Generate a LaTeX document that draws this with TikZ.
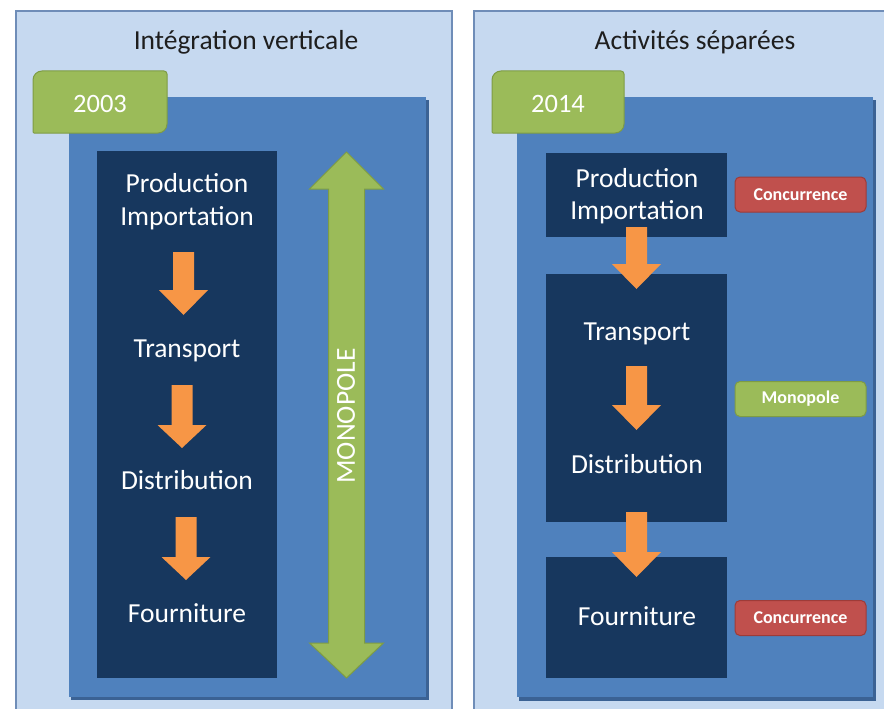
\documentclass[tikz,border=0pt]{standalone}
\usepackage{fontspec}
\setmainfont{Carlito}

\definecolor{panelfill}{HTML}{C6D9F0}
\definecolor{paneledge}{HTML}{6F8DB8}
\definecolor{midblue}{HTML}{4F81BD}
\definecolor{midshadow}{HTML}{3B6294}
\definecolor{navy}{HTML}{17375E}
\definecolor{orangeA}{HTML}{F79646}
\definecolor{greenA}{HTML}{9BBB59}
\definecolor{greenEdge}{HTML}{7E9C44}
\definecolor{redA}{HTML}{C0504D}
\definecolor{redEdge}{HTML}{9E3B38}
\definecolor{titlegray}{HTML}{1E1E1E}

\tikzset{
  panel/.style={fill=panelfill, draw=paneledge, line width=1.5pt},
  steptext/.style={text=white, font=\fontsize{27.5}{33}\selectfont, anchor=base, inner sep=0pt},
  titletext/.style={text=titlegray, font=\fontsize{27.5}{33}\selectfont, anchor=base, inner sep=0pt},
  yeartab/.style={fill=greenA, draw=greenEdge, line width=1pt},
  yeartext/.style={text=white, font=\fontsize{26.5}{32}\selectfont, anchor=base, inner sep=0pt},
  badge/.style={rounded corners=5pt, minimum width=131pt, minimum height=35pt, inner sep=0pt,
    text=white, font=\bfseries\fontsize{18}{21}\selectfont, line width=1pt},
  redbadge/.style={badge, fill=redA, draw=redEdge},
  greenbadge/.style={badge, fill=greenA, draw=greenEdge},
  flowarrow/.style={fill=orangeA},
  bigarrow/.style={fill=greenA, draw=greenEdge, line width=1pt},
}

% orange block arrow pointing down: centre x, shaft top, head base, tip
\newcommand\flowdown[4]{%
  \fill[flowarrow] (#1-10.5,#2) -- (#1+10.5,#2) -- (#1+10.5,#3) -- (#1+24.5,#3)
    -- (#1,#4) -- (#1-24.5,#3) -- (#1-10.5,#3) -- cycle;}

% year tab with two rounded and two nearly square corners
\newcommand\yeartabshape[4]{%
  \draw[yeartab] (#1,#4) [rounded corners=9pt] -- (#1,#2) [rounded corners=3pt] -- (#3,#2)
    [rounded corners=9pt] -- (#3,#4) [rounded corners=1pt] -- cycle;}

\begin{document}
\begin{tikzpicture}[x=1pt,y=-1pt]
\useasboundingbox (0,0) rectangle (884,709);
\fill[white] (0,0) rectangle (884,709);

% ---------------- left panel: vertical integration ----------------
\draw[panel] (16,11) rectangle (452,716);
\node[titletext] (titleL) at (246,50) {Intégration verticale};
\fill[midshadow] (71,100) rectangle (429,700);
\fill[midblue] (69,97) rectangle (426,697);
\yeartabshape{33}{71}{167}{133}
\node[yeartext] (yearL) at (100,112) {2003};

\fill[navy] (97,151) rectangle (277,678);
\node[steptext] (prodL) at (187,192.5) {Production};
\node[steptext] (impL) at (187,225) {Importation};
\node[steptext] (transL) at (187,357) {Transport};
\node[steptext] (distL) at (187,489) {Distribution};
\node[steptext] (fournL) at (187,622) {Fourniture};

\flowdown{183.5}{252}{290}{315}
\flowdown{182}{385}{425}{448}
\flowdown{186}{517}{557}{580}

% double-headed monopoly arrow
\draw[bigarrow] (346.5,152) -- (383.5,189) -- (364.5,189) -- (364.5,643) -- (383.5,643)
  -- (346.5,678) -- (309.5,643) -- (328.5,643) -- (328.5,189) -- (309.5,189) -- cycle;
\node[text=white, font=\fontsize{27.5}{33}\selectfont, rotate=90, inner sep=0pt] (mono) at (346,416) {MONOPOLE};

% ---------------- right panel: separated activities ----------------
\draw[panel] (474,11) rectangle (896,716);
\node[titletext] (titleR) at (695,50) {Activités séparées};
\fill[midshadow] (519,100) rectangle (876,701);
\fill[midblue] (517,97) rectangle (873,697);
\yeartabshape{492}{71}{624}{133}
\node[yeartext] (yearR) at (558,112) {2014};

\fill[navy] (546,153) rectangle (727,237);
\fill[navy] (546,274) rectangle (727,522);
\fill[navy] (546,557) rectangle (727,678);
\node[steptext] (prodR) at (637,187) {Production};
\node[steptext] (impR) at (637,219) {Importation};
\node[steptext] (transR) at (637,340) {Transport};
\node[steptext] (distR) at (637,473) {Distribution};
\node[steptext] (fournR) at (637,625) {Fourniture};

\flowdown{636.5}{227}{264}{289}
\flowdown{636.5}{366}{405}{430}
\flowdown{636.5}{512}{552}{577}

\node[redbadge] (concA) at (800.5,194.5) {Concurrence};
\node[greenbadge] (monoB) at (800.5,399) {Monopole};
\node[redbadge] (concB) at (800.5,618) {Concurrence};
\end{tikzpicture}
\end{document}
